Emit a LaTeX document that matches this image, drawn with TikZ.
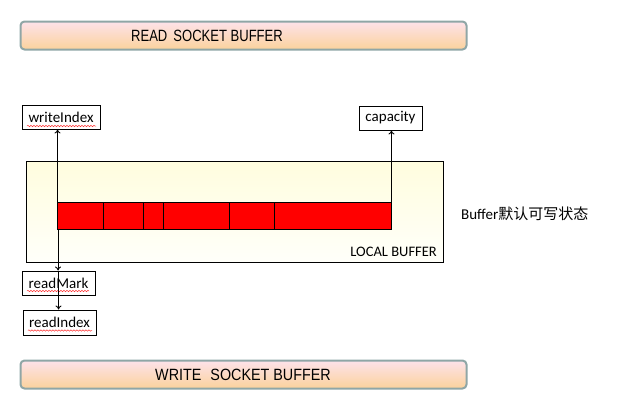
\documentclass[tikz,border=0pt]{standalone}
\usepackage{fontspec}
\setmainfont{Carlito}
\newfontfamily\readfont[FakeStretch=0.80]{Liberation Sans}
\newfontfamily\writefont[FakeStretch=0.88]{Liberation Sans}
\newfontfamily\cjk{Noto Sans CJK SC}
\usetikzlibrary{arrows.meta,decorations.pathmorphing}
\definecolor{barline}{RGB}{143,166,166}
\definecolor{bartop}{RGB}{253,226,234}
\definecolor{barbot}{RGB}{251,210,156}
\definecolor{loctop}{RGB}{255,253,222}
\definecolor{locbot}{RGB}{255,255,250}
\tikzset{
  sockbar/.style={draw=barline, line width=2pt, rounded corners=4pt, top color=bartop, bottom color=barbot, minimum width=446pt, minimum height=28pt, inner sep=0pt},
  labbox/.style={draw=black, line width=1pt, fill=white, minimum height=24pt, inner sep=0pt, font=\fontsize{15}{18}\selectfont},
  ptr/.style={draw=black, line width=0.9pt, -{To[length=4pt,width=6pt]}},
  cell/.style={draw=black, line width=0.9pt},
  squig/.style={draw=red!80, line width=0.5pt, decorate, decoration={snake, amplitude=0.7pt, segment length=3pt}}
}
\begin{document}
\begin{tikzpicture}[x=1pt,y=-1pt]
\useasboundingbox (0,0) rectangle (618,410);
% socket bars
\node[sockbar] (readbar) at (243.5,35.5) {};
\node[font=\readfont\fontsize{16.3}{19}\selectfont, inner sep=0pt] (readtxt) at (207,36) {READ\hspace{6pt}SOCKET BUFFER};
\node[sockbar] (writebar) at (243.5,374.5) {};
\node[font=\writefont\fontsize{16.3}{19}\selectfont, inner sep=0pt] (writetxt) at (243,375) {WRITE\hspace{9pt}SOCKET BUFFER};
% local buffer
\node[draw=black, line width=1pt, top color=loctop, bottom color=locbot, minimum width=417pt, minimum height=101pt, inner sep=0pt] (local) at (234.5,211.5) {};
\node[anchor=south east, inner sep=0pt, font=\fontsize{14.5}{17}\selectfont] (loctxt) at (437,257) {LOCAL BUFFER};
% red bar
\node[cell, fill=red, minimum width=334pt, minimum height=27pt, inner sep=0pt] (rb) at (224,215.5) {};
\foreach \xx in {103.3,143.3,163.3,229.3,274.3}
  \draw[cell] (\xx,202) -- (\xx,229);
% label boxes
\node[labbox, minimum width=78pt] (wi) at (61,117) {writeIndex};
\node[labbox, minimum width=63pt] (cap) at (390.5,118) {capacity};
\node[labbox, minimum width=73pt] (rm) at (58.5,283) {readMark};
\node[labbox, minimum width=73pt, minimum height=25pt] (ri) at (59.5,322.5) {readIndex};
% squiggles
\draw[squig] (27,126) -- (96,126);
\draw[squig] (27,291) -- (89,291);
\draw[squig] (28,330.5) -- (92,330.5);
% side text
\node[anchor=west, inner sep=0pt, font=\fontsize{15}{18}\selectfont] (note) at (461,214) {Buffer{\cjk 默认可写状态}};
% pointers
\coordinate (wstart) at ([xshift=1pt]rb.north west);
\coordinate (cstart) at (rb.north east);
\coordinate (dstart) at ([xshift=1.5pt]rb.south west);
\draw[ptr] (wstart) -- (wstart |- wi.south);
\draw[ptr] (cstart) -- (cstart |- cap.south);
\draw[ptr] (dstart) -- (dstart |- rm.north);
\coordinate (mstart) at ([xshift=0.5pt]dstart |- rm.north);
\draw[ptr] (mstart) -- (mstart |- ri.north);
\end{tikzpicture}
\end{document}
